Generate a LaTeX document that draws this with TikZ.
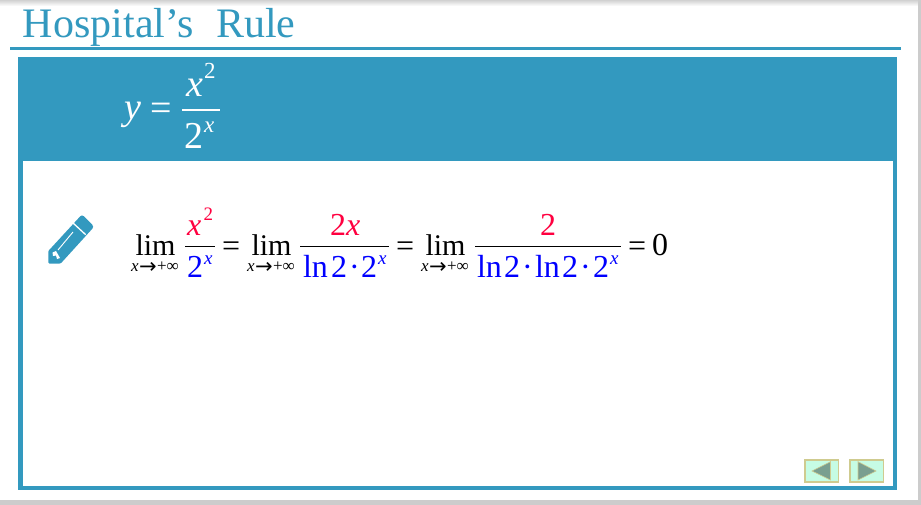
\documentclass[tikz,border=0pt]{standalone}
\usepackage{fontspec}
\setmainfont{Liberation Serif}
\newfontfamily\arrowfont{DejaVu Sans}
\definecolor{teal1}{HTML}{3399BF}
\definecolor{redt}{HTML}{FF0040}
\definecolor{blut}{HTML}{0000FF}
\definecolor{btnfill}{HTML}{C6FCE4}
\definecolor{btnedge}{HTML}{CFCB8F}
\definecolor{btntri}{HTML}{7A9F90}
\newcommand{\fs}[1]{\fontsize{#1}{#1}\selectfont}
\tikzset{
  t/.style={anchor=base west,inner sep=0pt,outer sep=0pt},
  big/.style={t,font=\fs{32}},
  limtext/.style={t,font=\fs{30}},
  sup/.style={t,font=\fs{19}\itshape},
  sub/.style={t,font=\fs{17}},
  subarrow/.style={t,font=\arrowfont\fs{21}},
  btn/.style={draw=btnedge,fill=btnfill,line width=1.2pt},
  tri/.style={fill=btntri,draw=btnedge,line width=.6pt},
}
\begin{document}
\begin{tikzpicture}[x=1pt,y=-1pt]
\useasboundingbox (0,0) rectangle (921,505);
\fill[white] (0,0) rectangle (921,505);
\shade[top color=black!18,bottom color=white] (0,0) rectangle (921,6);
\fill[black!20] (918,0) rectangle (921,505);
\fill[black!20] (0,500) rectangle (921,505);
% title
\node[t,text=teal1,font=\fs{42}] (title) at (23,38) {Hospital’s};
\node[t,text=teal1,font=\fs{42}] (title2) at (216,38) {Rule};
\fill[teal1] (10,47) rectangle (901,50);
% frame
\fill[teal1] (18,57.5) rectangle (897,490);
\fill[white] (22.5,161.5) rectangle (893,486);
% header formula
\begin{scope}[text=white]
\node[t,font=\fs{38}\itshape] (hy) at (124,120) {y};
\node[t,font=\fs{38}] (heq) at (150,121) {=};
\node[t,font=\fs{38}\itshape] (hx) at (186,97) {x};
\node[t,font=\fs{23}] (hxs) at (204,79) {2};
\node[t,font=\fs{38}] (h2) at (184.5,149) {2};
\node[t,font=\fs{23}\itshape] (h2s) at (204,133) {x};
\end{scope}
\fill[white] (182,109.5) rectangle (220,111);
% pencil
\fill[teal1,rounded corners=1pt] (48.3,263.5) -- (48.3,251) -- (81,215.5) -- (83,215.5) -- (93,225.5) -- (93,228) -- (60.7,263.5) -- cycle;
\draw[white,line width=1.3pt] (73,223) -- (85.7,234.7);
\draw[white,line width=.9pt] (58,250) -- (73,232);
\fill[white] (52.5,252.5) -- (56,251) -- (60,258) -- (57,259) -- (56,255.5) -- (53,256) -- cycle;
% limit 1
\node[limtext] (l1) at (135.5,255) {lim};
\node[sub] (s1) at (131,272) {\textit{x}};
\node[subarrow] (s1a) at (139,273) {→};
\node[sub] (s1b) at (157,272) {+∞};
\node[t,font=\fs{32}\itshape,text=redt] (n1) at (187,236) {x};
\node[t,font=\fs{19},text=redt] (n1s) at (203.5,221) {2};
\node[big,text=blut] (d1) at (187,277) {2};
\node[sup,text=blut] (d1s) at (204,265) {x};
\fill[black] (185,245.8) rectangle (215,247);
\node[big] (e1) at (222,256) {=};
% limit 2
\node[limtext] (l2) at (251.5,255) {lim};
\node[sub] (s2) at (247,272) {\textit{x}};
\node[subarrow] (s2a) at (255,273) {→};
\node[sub] (s2b) at (273,272) {+∞};
\node[big,text=redt] (n2) at (330,236) {2\textit{x}};
\node[big,text=blut] (d2) at (303,277) {ln};
\node[big,text=blut] (d2a) at (331,277) {2};
\node[big,text=blut] (d2b) at (349,277) {·};
\node[big,text=blut] (d2c) at (361,277) {2};
\node[sup,text=blut] (d2s) at (378,265) {x};
\fill[black] (300,245.8) rectangle (389,247);
\node[big] (e2) at (396,256) {=};
% limit 3
\node[limtext] (l3) at (425.5,255) {lim};
\node[sub] (s3) at (421,272) {\textit{x}};
\node[subarrow] (s3a) at (429,273) {→};
\node[sub] (s3b) at (447,272) {+∞};
\node[big,text=redt] (n3) at (540,236) {2};
\node[big,text=blut] (d3) at (477,277) {ln};
\node[big,text=blut] (d3a) at (504,277) {2};
\node[big,text=blut] (d3b) at (522,277) {·};
\node[big,text=blut] (d3c) at (535,277) {ln};
\node[big,text=blut] (d3d) at (562,277) {2};
\node[big,text=blut] (d3e) at (580,277) {·};
\node[big,text=blut] (d3f) at (593,277) {2};
\node[sup,text=blut] (d3s) at (610,265) {x};
\fill[black] (475,245.8) rectangle (621,247);
\node[big] (e3) at (628,256) {=};
\node[big] (z) at (652,255) {0};
% buttons
\draw[btn] (805,460) rectangle (838.5,482);
\fill[tri] (812,471) -- (830.5,461.7) -- (830.5,480) -- cycle;
\draw[btn] (850,460) rectangle (883.5,482);
\fill[tri] (858,461.7) -- (876,471) -- (858,480) -- cycle;
\end{tikzpicture}
\end{document}
